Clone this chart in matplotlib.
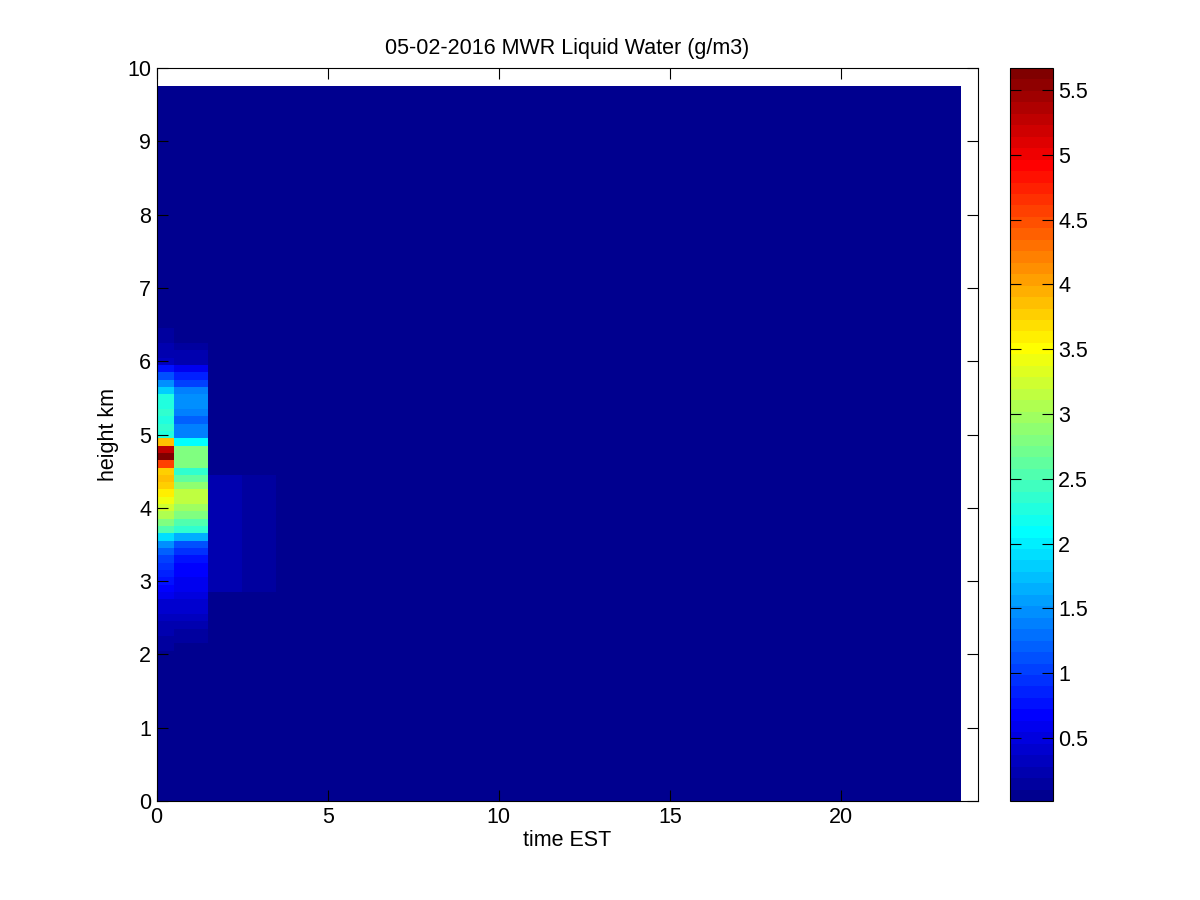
import numpy as np
import matplotlib
matplotlib.use("Agg")
import matplotlib.pyplot as plt
from matplotlib.colors import ListedColormap

plt.rcParams['font.family'] = ['Liberation Sans', 'DejaVu Sans']

# ---- data ----
time_edges = [0.0, 0.5] + [1.5 + k for k in range(23)]          # hours EST, 0 ... 23.5
height_edges = [0.0] + [round(0.05 + 0.1 * k, 2) for k in range(98)]  # km, 0 ... 9.75

background = 0.03
data_min = 0.014
data_max = 5.67

profile_heights = [6.4, 6.3, 6.2, 6.1, 6.0, 5.9, 5.8, 5.7, 5.6, 5.5, 5.4, 5.3, 5.2,
                   5.1, 5.0, 4.9, 4.8, 4.7, 4.6, 4.5, 4.4, 4.3, 4.2, 4.1, 4.0, 3.9,
                   3.8, 3.7, 3.6, 3.5, 3.4, 3.3, 3.2, 3.1, 3.0, 2.9, 2.8, 2.7, 2.6,
                   2.5, 2.4, 2.3, 2.2, 2.1, 2.0]
col1_values = [0.15, 0.15, 0.2, 0.22, 0.3, 0.8, 1.15, 1.5, 1.8, 2.25, 2.3, 2.35, 2.3,
               2.35, 2.3, 3.9, 5.3, 5.66, 4.6, 3.76, 3.85, 3.76, 3.6, 3.4, 3.2, 3.05,
               2.84, 2.5, 1.92, 1.43, 1.22, 1.07, 0.92, 0.85, 0.78, 0.65, 0.55, 0.45, 0.38,
               0.3, 0.25, 0.2, 0.15, 0.12, 0.1]
col2_values = [0.05, 0.08, 0.15, 0.2, 0.25, 0.55, 0.85, 1.0, 1.35, 1.5, 1.43, 1.35, 1.2,
               1.35, 1.35, 2.13, 2.77, 2.84, 2.77, 2.35, 2.63, 2.91, 3.12, 3.19, 2.98, 2.84,
               2.56, 2.35, 1.64, 1.15, 0.9, 0.78, 0.72, 0.65, 0.6, 0.55, 0.5, 0.45, 0.38,
               0.3, 0.22, 0.18, 0.14, 0.1, 0.08]
col3_heights = [4.4, 4.3, 4.2, 4.1, 4.0, 3.9, 3.8, 3.7, 3.6, 3.5, 3.4, 3.3, 3.2, 3.1, 3.0, 2.9]
col3_values = [0.22, 0.24, 0.24, 0.22, 0.22, 0.22, 0.22, 0.24, 0.24, 0.22, 0.22, 0.22, 0.21, 0.21, 0.2, 0.2]
col4_values = [0.11, 0.11, 0.11, 0.11, 0.11, 0.11, 0.11, 0.11, 0.11, 0.11, 0.11, 0.11, 0.11, 0.11, 0.11, 0.11]

title = '05-02-2016 MWR Liquid Water (g/m3)'
xlabel = 'time EST'
ylabel = 'height km'
xticks = [0, 5, 10, 15, 20]
yticks = list(range(0, 11))
cbar_ticks = [0.5, 1, 1.5, 2, 2.5, 3, 3.5, 4, 4.5, 5, 5.5]

# ---- grid ----
te = np.array(time_edges)
he = np.array(height_edges)
hc = 0.5 * (he[:-1] + he[1:])
C = np.full((len(he) - 1, len(te) - 1), background)


def put(col, heights, values):
    for h, v in zip(heights, values):
        i = int(np.argmin(np.abs(hc - h)))
        C[i, col] = v


put(0, profile_heights, col1_values)
put(1, profile_heights, col2_values)
put(2, col3_heights, col3_values)
put(3, col3_heights, col4_values)
C[-1, -1] = data_min


# MATLAB-style jet(64)
def matlab_jet(m=64):
    n = int(np.ceil(m / 4))
    u = np.concatenate([np.arange(1, n + 1) / n, np.ones(n - 1), np.arange(n, 0, -1) / n])
    g = int(np.ceil(n / 2)) - (1 if m % 4 == 1 else 0) + np.arange(1, len(u) + 1)
    r = g + n
    b = g - n
    J = np.zeros((m, 3))
    for idx, arr in ((0, r), (1, g), (2, b)):
        ok = (arr >= 1) & (arr <= m)
        J[arr[ok] - 1, idx] = u[ok]
    return ListedColormap(J)


cmap = matlab_jet(64)
FS = 15.5

fig = plt.figure(figsize=(12, 9), dpi=100)
ax = fig.add_axes([0.1305, 0.11, 0.6845, 0.8144])
cax = fig.add_axes([0.8417, 0.11, 0.0355, 0.8144])

mesh = ax.pcolormesh(te, he, C, cmap=cmap, vmin=data_min, vmax=data_max, shading='flat')
ax.set_xlim(0, 24)
ax.set_ylim(0, 10)
ax.set_xticks(xticks)
ax.set_yticks(yticks)
ax.tick_params(direction='in', top=True, right=True, length=8, width=0.8,
               labelsize=FS, pad=4)
ax.set_title(title, fontsize=FS, pad=10)
ax.set_xlabel(xlabel, fontsize=FS, labelpad=2)
ax.set_ylabel(ylabel, fontsize=FS, labelpad=6)
for s in ax.spines.values():
    s.set_linewidth(0.8)

cb = fig.colorbar(mesh, cax=cax, ticks=cbar_ticks)
cb.ax.set_yticklabels([('%g' % t) for t in cbar_ticks])
cb.ax.tick_params(direction='in', left=True, right=True, length=8, width=0.8,
                  labelsize=FS, pad=4)
cb.outline.set_linewidth(0.8)

fig.savefig('out.png', dpi=100)
